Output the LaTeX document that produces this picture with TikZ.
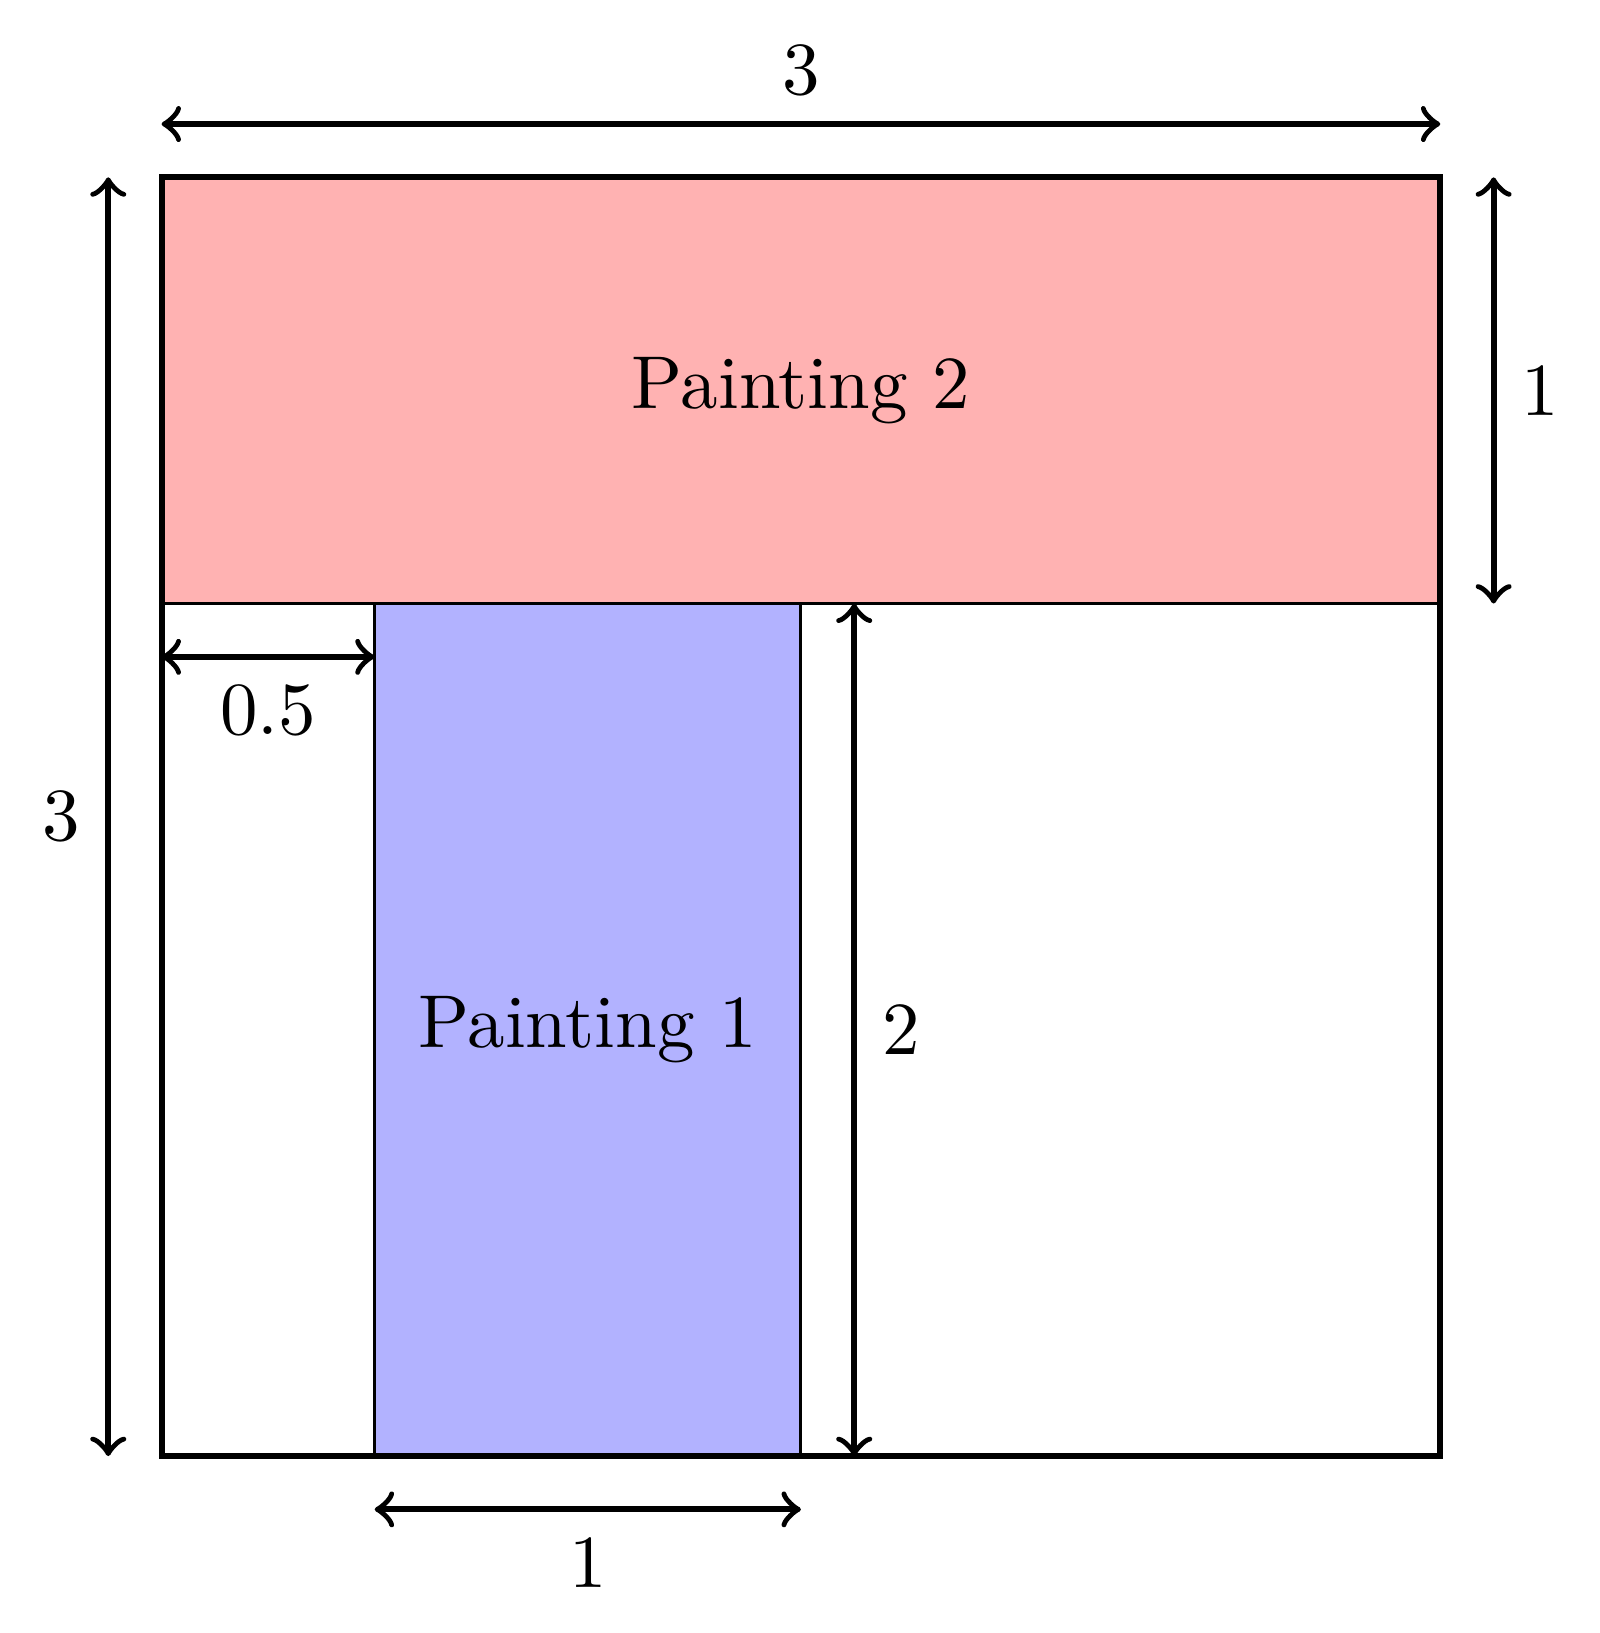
\documentclass[tikz,border=0pt]{standalone}
\usepackage{xcolor}
\usepackage{tikz}
\usetikzlibrary{calc}

\begin{document}
\begin{tikzpicture}[
    scale=2,
    wall/.style={draw, thick},
    painting/.style={draw},
    dim/.style={<->, thick}
]
    \useasboundingbox (-0.379,-0.415) rectangle (3.374,3.416);

    % paintings
    \filldraw[painting, fill=red!30] (0,2) rectangle (3,3);
    \filldraw[painting, fill=blue!30] (0.5,0) rectangle (1.5,2);
    \node (p2) at (1.5,2.5) {Painting 2};
    \node (p1) at (1,1) {Painting 1};

    % wall
    \draw[wall] (0,0) rectangle (3,3);

    % end points of the dimension lines
    \coordinate (topL) at (0,3.125);
    \coordinate (topR) at (3,3.125);
    \coordinate (leftB) at (-0.125,0);
    \coordinate (leftT) at (-0.125,3);
    \coordinate (rightB) at (3.125,2);
    \coordinate (rightT) at (3.125,3);
    \coordinate (gapL) at (0,1.875);
    \coordinate (gapR) at (0.5,1.875);
    \coordinate (hB) at (1.625,0);
    \coordinate (hT) at (1.625,2);
    \coordinate (botL) at (0.5,-0.125);
    \coordinate (botR) at (1.5,-0.125);

    \draw[dim] (topL) -- node[above] {3} (topR);
    \draw[dim] (leftB) -- node[left] {3} (leftT);
    \draw[dim] (rightB) -- node[right] {1} (rightT);
    \draw[dim] (gapL) -- node[below] {0.5} (gapR);
    \draw[dim] (hB) -- node[right] {2} (hT);
    \draw[dim] (botL) -- node[below] {1} (botR);
\end{tikzpicture}
\end{document}
